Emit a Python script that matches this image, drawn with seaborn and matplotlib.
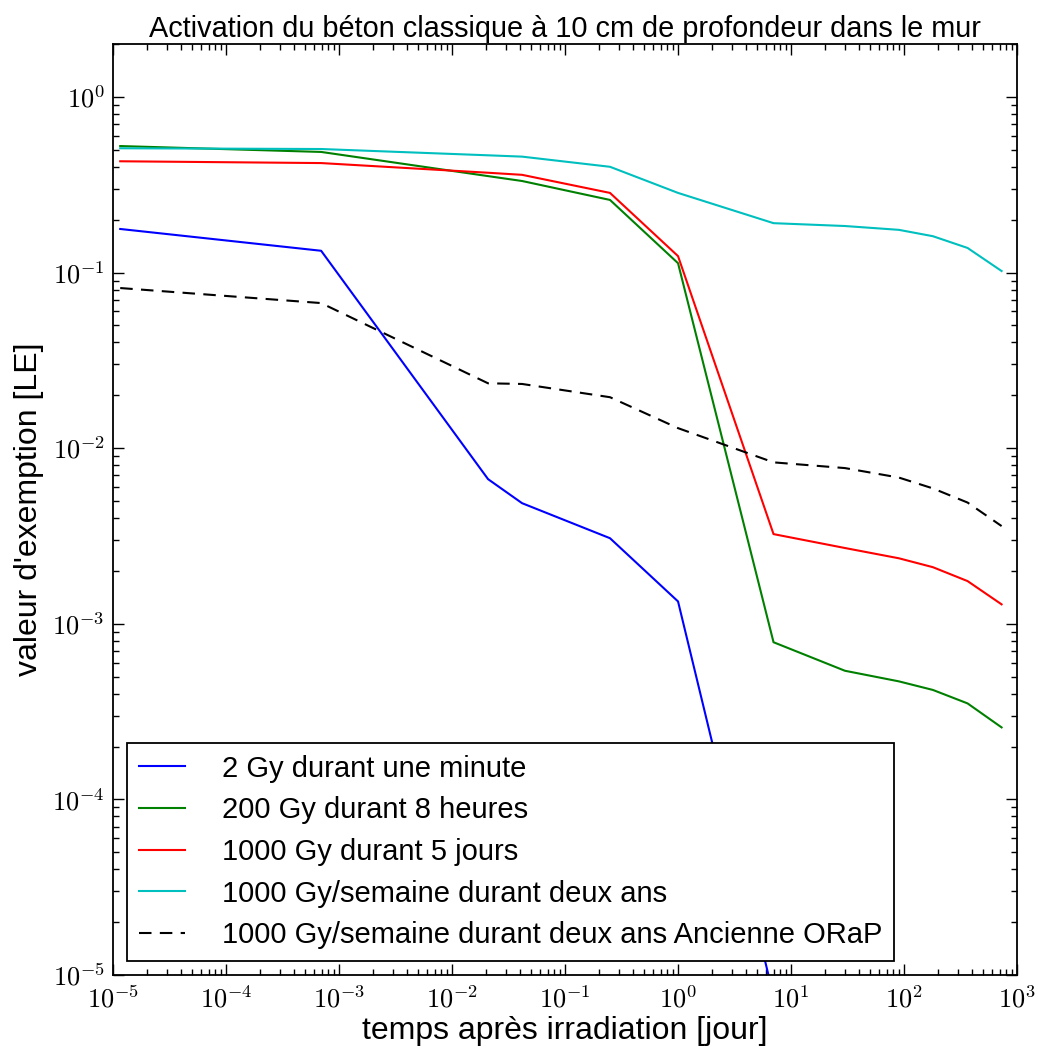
import numpy as np
import pandas as pd
import matplotlib
matplotlib.use("Agg")
import matplotlib.pyplot as plt
import matplotlib.ticker as mticker
import seaborn as sns

# time after irradiation [day]: 1 s, 1 min, 30 min, 1 h, 6 h, 1 d, 7 d, 30 d, 90 d, 180 d, 1 y, 2 y
temps = [1/86400, 1/1440, 1/48, 1/24, 0.25, 1, 7, 30, 90, 180, 365, 730]

gy2_minute = [0.177, 0.133, 0.00666, 0.00486, 0.00307, 0.00134, 7.6e-6,
              np.nan, np.nan, np.nan, np.nan, np.nan]
gy200_8h = [0.525, 0.486, 0.354, 0.332, 0.259, 0.113, 0.000785,
            0.00054, 0.00047, 0.00042, 0.000352, 0.000257]
gy1000_5j = [0.43, 0.42, 0.37, 0.36, 0.284, 0.124, 0.00324,
             0.0027, 0.00236, 0.0021, 0.00175, 0.00129]
gy1000_sem = [0.51, 0.505, 0.465, 0.457, 0.40, 0.284, 0.191,
              0.184, 0.175, 0.161, 0.138, 0.102]
gy1000_sem_old = [0.0816, 0.067, 0.0234, 0.0232, 0.0195, 0.013, 0.0083,
                  0.0077, 0.0068, 0.0059, 0.0049, 0.0036]

labels = ["2 Gy durant une minute",
          "200 Gy durant 8 heures",
          "1000 Gy durant 5 jours",
          "1000 Gy/semaine durant deux ans",
          "1000 Gy/semaine durant deux ans Ancienne ORaP"]
series = [gy2_minute, gy200_8h, gy1000_5j, gy1000_sem, gy1000_sem_old]
colors = ["#0000ff", "#008000", "#ff0000", "#00bfbf", "#000000"]
styles = ["-", "-", "-", "-", (0, (6, 4))]

plt.rcParams["font.family"] = ["Liberation Sans", "DejaVu Sans"]
plt.rcParams["mathtext.fontset"] = "cm"

fig = plt.figure(figsize=(10.38, 10.51), dpi=100)
ax = fig.add_axes([0.1089, 0.0723, 0.9798 - 0.1089, 0.9581 - 0.0723])

for lab, vals, col, ls in zip(labels, series, colors, styles):
    df = pd.DataFrame({"temps": temps, "valeur": vals})
    sns.lineplot(data=df, x="temps", y="valeur", ax=ax, color=col,
                 linestyle=ls, linewidth=1.5, label=lab)

ax.set_xscale("log")
ax.set_yscale("log")
ax.set_xlim(1e-5, 1e3)
ax.set_ylim(1e-5, 2)

fmt = mticker.FuncFormatter(lambda v, p: r"$10^{%d}$" % int(round(np.log10(v))))
ax.xaxis.set_major_locator(mticker.FixedLocator([10.0 ** k for k in range(-5, 4)]))
ax.yaxis.set_major_locator(mticker.FixedLocator([10.0 ** k for k in range(-5, 1)]))
ax.xaxis.set_minor_locator(mticker.LogLocator(base=10, subs=np.arange(2, 10), numticks=20))
ax.yaxis.set_minor_locator(mticker.LogLocator(base=10, subs=np.arange(2, 10), numticks=20))
ax.xaxis.set_major_formatter(fmt)
ax.yaxis.set_major_formatter(fmt)
ax.xaxis.set_minor_formatter(mticker.NullFormatter())
ax.yaxis.set_minor_formatter(mticker.NullFormatter())
ax.tick_params(which="both", direction="in", top=True, right=True, labelsize=19)
ax.tick_params(which="major", length=8, width=1)
ax.tick_params(which="minor", length=4, width=1)
ax.tick_params(axis="x", pad=8)
ax.tick_params(axis="y", pad=6)
for s in ax.spines.values():
    s.set_linewidth(1.3)
    s.set_color("black")

ax.set_title("Activation du béton classique à 10 cm de profondeur dans le mur",
             fontsize=20.8, pad=5)
ax.set_xlabel("temps après irradiation [jour]", fontsize=23, labelpad=2)
ax.set_ylabel("valeur d'exemption [LE]", fontsize=23, labelpad=6)

leg = ax.legend(loc="lower left", fontsize=21, frameon=True, fancybox=False,
                edgecolor="black", framealpha=1, handlelength=1.6,
                borderaxespad=0.48, borderpad=0.4, labelspacing=0.47,
                handletextpad=1.25)
leg.get_frame().set_linewidth(1.3)

fig.savefig("out.png", dpi=100)
